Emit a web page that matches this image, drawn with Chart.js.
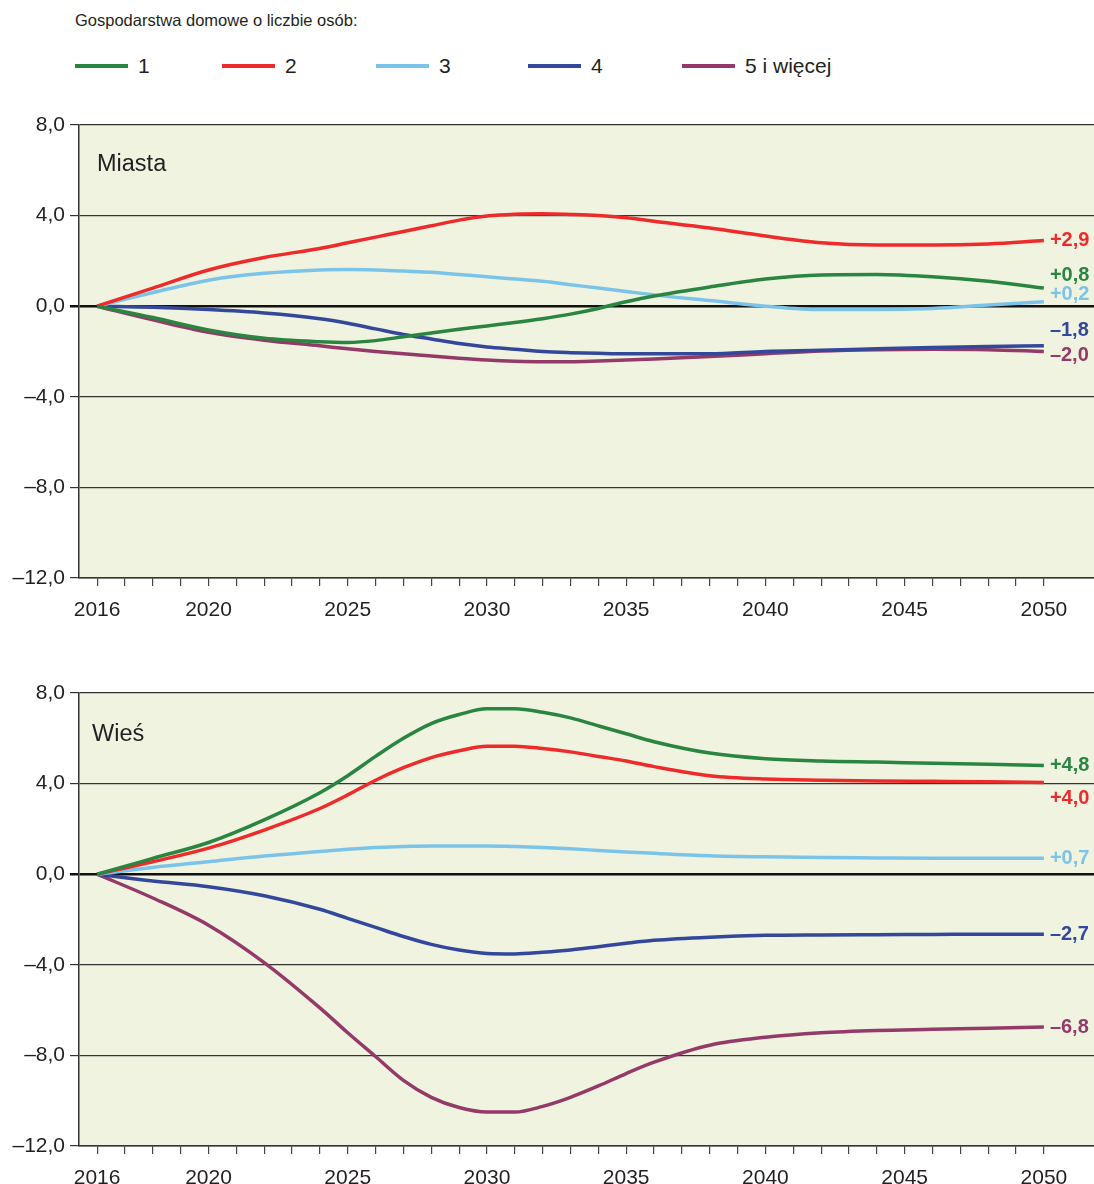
<!DOCTYPE html>
<html>
<head>
<meta charset="utf-8">
<script src="https://cdn.jsdelivr.net/npm/chart.js@4.4.1/dist/chart.umd.min.js"></script>
<style>
  body { margin: 0; background: #fff; width: 1094px; height: 1184px; overflow: hidden; position: relative; font-family: "Liberation Sans", Arial, sans-serif; color: #231f20; }
  #title { position: absolute; left: 75px; top: 11px; font-size: 16.5px; }
  .leg { position: absolute; top: 54px; font-size: 21px; display: flex; align-items: center; }
  .leg span.sw { display: inline-block; width: 53px; height: 4px; margin-right: 10px; }
  canvas { position: absolute; left: 0; }
  .panel { position: absolute; font-size: 23.5px; }
</style>
</head>
<body>
<div id="title">Gospodarstwa domowe o liczbie osób:</div>
<div id="legend"></div>
<canvas id="cityChart" width="1094" height="520" style="top:115px"></canvas>
<canvas id="villageChart" width="1094" height="520" style="top:683px"></canvas>
<div class="panel" style="left:97px; top:150px">Miasta</div>
<div class="panel" style="left:92px; top:720px">Wieś</div>
<script>
// Kategorie i serie
const seriesNames = ["1", "2", "3", "4", "5 i więcej"];
const seriesColors = ["#2a8540", "#ee2b2a", "#7cc3e9", "#33479b", "#943a68"];
const years = [2016, 2018, 2020, 2022, 2024, 2025, 2026, 2027, 2028, 2029, 2030, 2031, 2032,
  2033, 2034, 2035, 2036, 2038, 2040, 2042, 2044, 2046, 2048, 2050];
const yearLabels = [2016, 2020, 2025, 2030, 2035, 2040, 2045, 2050];
const yTicks = [-12, -8, -4, 0, 4, 8];

// Miasta
const city1 = [0, -0.5, -1.05, -1.42, -1.57, -1.6, -1.52, -1.35, -1.18, -1.02, -0.87, -0.72, -0.55, -0.35, -0.1, 0.2, 0.45, 0.85, 1.2, 1.38, 1.4, 1.3, 1.1, 0.8];
const city2 = [0, 0.8, 1.6, 2.15, 2.55, 2.8, 3.05, 3.3, 3.55, 3.8, 3.98, 4.06, 4.08, 4.05, 4.0, 3.9, 3.75, 3.45, 3.1, 2.8, 2.7, 2.7, 2.75, 2.9];
const city3 = [0, 0.6, 1.15, 1.45, 1.6, 1.62, 1.6, 1.55, 1.5, 1.4, 1.3, 1.2, 1.1, 0.95, 0.8, 0.65, 0.5, 0.25, 0.0, -0.15, -0.15, -0.1, 0.05, 0.2];
const city4 = [0, -0.05, -0.15, -0.3, -0.55, -0.75, -1.0, -1.25, -1.45, -1.65, -1.8, -1.9, -2.0, -2.05, -2.08, -2.1, -2.1, -2.1, -2.0, -1.95, -1.88, -1.82, -1.78, -1.75];
const city5 = [0, -0.6, -1.15, -1.5, -1.75, -1.88, -2.0, -2.1, -2.2, -2.3, -2.38, -2.43, -2.45, -2.45, -2.42, -2.38, -2.33, -2.22, -2.1, -1.98, -1.92, -1.9, -1.92, -2.0];
const cityEndLabels = ["+0,8", "+2,9", "+0,2", "–1,8", "–2,0"];

// Wieś
const village1 = [0, 0.7, 1.4, 2.4, 3.6, 4.35, 5.2, 6.0, 6.65, 7.05, 7.3, 7.3, 7.15, 6.9, 6.55, 6.2, 5.85, 5.35, 5.1, 5.0, 4.95, 4.9, 4.85, 4.8];
const village2 = [0, 0.55, 1.15, 1.95, 2.9, 3.5, 4.15, 4.7, 5.15, 5.45, 5.65, 5.65, 5.55, 5.4, 5.2, 5.0, 4.75, 4.35, 4.2, 4.15, 4.12, 4.1, 4.08, 4.05];
const village3 = [0, 0.3, 0.55, 0.8, 1.0, 1.1, 1.18, 1.22, 1.25, 1.25, 1.25, 1.22, 1.18, 1.12, 1.05, 0.98, 0.92, 0.82, 0.77, 0.74, 0.72, 0.7, 0.7, 0.7];
const village4 = [0, -0.3, -0.55, -0.95, -1.55, -1.95, -2.35, -2.75, -3.1, -3.35, -3.5, -3.52, -3.45, -3.35, -3.2, -3.05, -2.92, -2.78, -2.7, -2.68, -2.67, -2.66, -2.65, -2.65];
const village5 = [0, -1.05, -2.25, -3.9, -5.9, -7.0, -8.05, -9.1, -9.85, -10.3, -10.5, -10.5, -10.25, -9.85, -9.35, -8.8, -8.3, -7.55, -7.2, -7.0, -6.9, -6.85, -6.8, -6.75];
const villageEndLabels = ["+4,8", "+4,0", "+0,7", "–2,7", "–6,8"];

// Legenda (HTML)
const legendX = [75, 222, 376, 528, 682];
const legend = document.getElementById("legend");
seriesNames.forEach((name, i) => {
  const d = document.createElement("div");
  d.className = "leg";
  d.style.left = legendX[i] + "px";
  d.innerHTML = `<span class="sw" style="background:${seriesColors[i]}"></span>${name}`;
  legend.appendChild(d);
});

const FONT = "'Liberation Sans', Arial, sans-serif";

// tło obszaru wykresu
const bgPlugin = {
  id: "bg",
  beforeDraw(chart) {
    const a = chart.chartArea;
    chart.ctx.save();
    chart.ctx.fillStyle = "#eff3e0";
    chart.ctx.fillRect(a.left, a.top, a.right - a.left, a.bottom - a.top);
    chart.ctx.restore();
  }
};

// etykiety na końcu linii
const endLabelPlugin = {
  id: "endLabels",
  afterDatasetsDraw(chart, args, opts) {
    const ctx = chart.ctx;
    ctx.save();
    ctx.font = "bold 20px " + FONT;
    ctx.textBaseline = "middle";
    chart.data.datasets.forEach((ds, i) => {
      const pts = chart.getDatasetMeta(i).data;
      const last = pts[pts.length - 1];
      ctx.fillStyle = ds.borderColor;
      ctx.fillText(opts.labels[i], last.x + 6, last.y + opts.nudge[i]);
    });
    ctx.restore();
  }
};

function makeChart(id, series, endLabels, nudge) {
  const ctx = document.getElementById(id).getContext("2d");
  return new Chart(ctx, {
    type: "line",
    data: {
      datasets: series.map((vals, i) => ({
        label: seriesNames[i],
        data: years.map((y, j) => ({ x: y, y: vals[j] })),
        borderColor: seriesColors[i],
        borderWidth: 3.5,
        pointRadius: 0,
        fill: false,
        cubicInterpolationMode: "monotone",
      })),
    },
    options: {
      responsive: false,
      animation: false,
      layout: { padding: { top: 10, right: 0, left: 0, bottom: 0 } },
      plugins: {
        legend: { display: false },
        tooltip: { enabled: false },
        endLabels: { labels: endLabels, nudge: nudge },
      },
      scales: {
        x: {
          type: "linear",
          min: 2015.35,
          max: 2051.8,
          afterBuildTicks(scale) {
            const t = [];
            for (let y = 2016; y <= 2050; y++) t.push({ value: y });
            scale.ticks = t;
          },
          afterFit(scale) {
            scale.height = 57;
            scale.paddingLeft = 0;
            scale.paddingRight = 0;
          },
          ticks: {
            autoSkip: false,
            maxRotation: 0,
            padding: 12,
            color: "#231f20",
            font: { family: FONT, size: 21 },
            callback: (v) => (yearLabels.includes(v) ? String(v) : ""),
          },
          grid: { drawOnChartArea: false, drawTicks: true, tickLength: 8, color: "#444", lineWidth: 1.2 },
          border: { display: true, color: "#333", width: 1.5 },
        },
        y: {
          min: -12,
          max: 8,
          afterBuildTicks(scale) { scale.ticks = yTicks.map((v) => ({ value: v })); },
          afterFit(scale) {
            scale.width = 79;
            scale.paddingTop = 0;
            scale.paddingBottom = 0;
          },
          ticks: {
            padding: 5,
            color: "#231f20",
            font: { family: FONT, size: 21 },
            callback: (v) => (v < 0 ? "–" + Math.abs(v).toFixed(1) : v.toFixed(1)).replace(".", ","),
          },
          grid: {
            color: (c) => (c.tick && c.tick.value === 0 ? "#111" : "#333"),
            lineWidth: (c) => (c.tick && c.tick.value === 0 ? 2.5 : 1.2),
            tickLength: 9,
          },
          border: { display: true, color: "#333", width: 1.5 },
        },
      },
    },
    plugins: [bgPlugin, endLabelPlugin],
  });
}

makeChart("cityChart", [city1, city2, city3, city4, city5], cityEndLabels, [-13, 0, -7, -15, 4]);
makeChart("villageChart", [village1, village2, village3, village4, village5], villageEndLabels, [0, 16, 0, 0, 0]);
</script>
</body>
</html>
